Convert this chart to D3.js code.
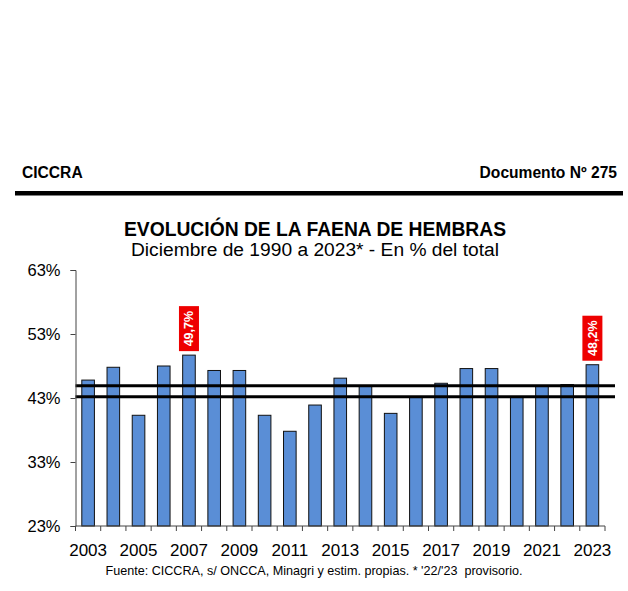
<!DOCTYPE html>
<html><head><meta charset="utf-8">
<script src="https://cdn.jsdelivr.net/npm/d3@7"></script>
<style>body{margin:0;background:#fff}svg{display:block;font-family:"Liberation Sans",Arial,sans-serif}</style>
</head><body>
<script>
const years = [2003,2004,2005,2006,2007,2008,2009,2010,2011,2012,2013,2014,2015,2016,2017,2018,2019,2020,2021,2022,2023];
const values = [45.8,47.8,40.3,48.0,49.7,47.3,47.3,40.3,37.8,41.9,46.1,44.9,40.6,43.2,45.3,47.6,47.6,43.2,44.9,45.1,48.2];
const yTicks = [23,33,43,53,63];
const xLabelYears = [2003,2005,2007,2009,2011,2013,2015,2017,2019,2021,2023];
const refLines = [44.9,43.2];
const highlights = [{year:2007,label:"49,7%"},{year:2023,label:"48,2%"}];

const W=628,H=591;
const svg=d3.select("body").append("svg").attr("width",W).attr("height",H);
const m={left:75.5,right:605,top:270,bottom:526};
const x=d3.scaleBand().domain(years).range([m.left,m.right]).paddingInner(0.5).paddingOuter(0.25);
const y=d3.scaleLinear().domain([23,63]).range([m.bottom,m.top]);

// header
svg.append("text").attr("x",22).attr("y",178).attr("font-size",15.6).attr("font-weight","bold").text("CICCRA");
svg.append("text").attr("x",617).attr("y",178).attr("text-anchor","end").attr("font-size",15.6).attr("font-weight","bold").text("Documento Nº 275");
svg.append("rect").attr("x",15).attr("y",191).attr("width",608).attr("height",4.5).attr("fill","#000");

svg.append("text").attr("x",315).attr("y",236).attr("text-anchor","middle").attr("font-size",19.3).attr("font-weight","bold").text("EVOLUCIÓN DE LA FAENA DE HEMBRAS");
svg.append("text").attr("x",315).attr("y",256).attr("text-anchor","middle").attr("font-size",19.2).text("Diciembre de 1990 a 2023* - En % del total");

// bars
svg.selectAll("rect.bar").data(years).enter().append("rect").attr("class","bar")
  .attr("x",d=>x(d)).attr("width",x.bandwidth())
  .attr("y",(d,i)=>y(values[i])).attr("height",(d,i)=>y(23)-y(values[i]))
  .attr("fill","#5a8ed6").attr("stroke","#111").attr("stroke-width",1);

// reference lines
refLines.forEach(v=>{
  svg.append("line").attr("x1",m.left).attr("x2",615).attr("y1",y(v)).attr("y2",y(v))
    .attr("stroke","#000").attr("stroke-width",3);
});

// y axis
const ya=svg.append("g").attr("transform",`translate(${m.left},0)`)
  .call(d3.axisLeft(y).tickValues(yTicks).tickSize(5).tickFormat(d=>d+"%"));
ya.select(".domain").attr("stroke","#444");
ya.selectAll(".tick line").attr("stroke","#444");
ya.selectAll("text").attr("font-size",16.5).attr("font-family","Liberation Sans, Arial").attr("fill","#000").attr("x",-15).attr("dy","0.35em");

// x axis
const xa=svg.append("g").attr("transform",`translate(0,${m.bottom})`);
xa.append("line").attr("x1",m.left).attr("x2",m.right).attr("y1",0).attr("y2",0).attr("stroke","#444");
const bounds=d3.range(years.length+1).map(i=>m.left+i*(m.right-m.left)/years.length);
xa.selectAll("line.tk").data(bounds).enter().append("line").attr("class","tk")
  .attr("x1",d=>d).attr("x2",d=>d).attr("y1",0).attr("y2",5).attr("stroke","#444");
xa.selectAll("text").data(xLabelYears).enter().append("text")
  .attr("x",d=>x(d)+x.bandwidth()/2).attr("y",30).attr("text-anchor","middle")
  .attr("font-size",17).text(d=>d);

// highlight labels
highlights.forEach(h=>{
  const i=years.indexOf(h.year);
  const cx=x(h.year)+x.bandwidth()/2;
  const top=y(values[i])-4;
  const bh=45,bw=20;
  svg.append("rect").attr("x",cx-bw/2).attr("y",top-bh).attr("width",bw).attr("height",bh).attr("fill","#ee0000");
  svg.append("text").attr("transform",`translate(${cx+4.5},${top-bh/2}) rotate(-90)`)
    .attr("text-anchor","middle").attr("font-size",12.5).attr("font-weight","bold").attr("fill","#fff").text(h.label);
});

svg.append("text").attr("x",314).attr("y",575).attr("text-anchor","middle").attr("font-size",12.6)
  .style("white-space","pre")
  .text("Fuente: CICCRA, s/ ONCCA, Minagri y estim. propias. * '22/'23  provisorio.");
</script>
</body></html>
